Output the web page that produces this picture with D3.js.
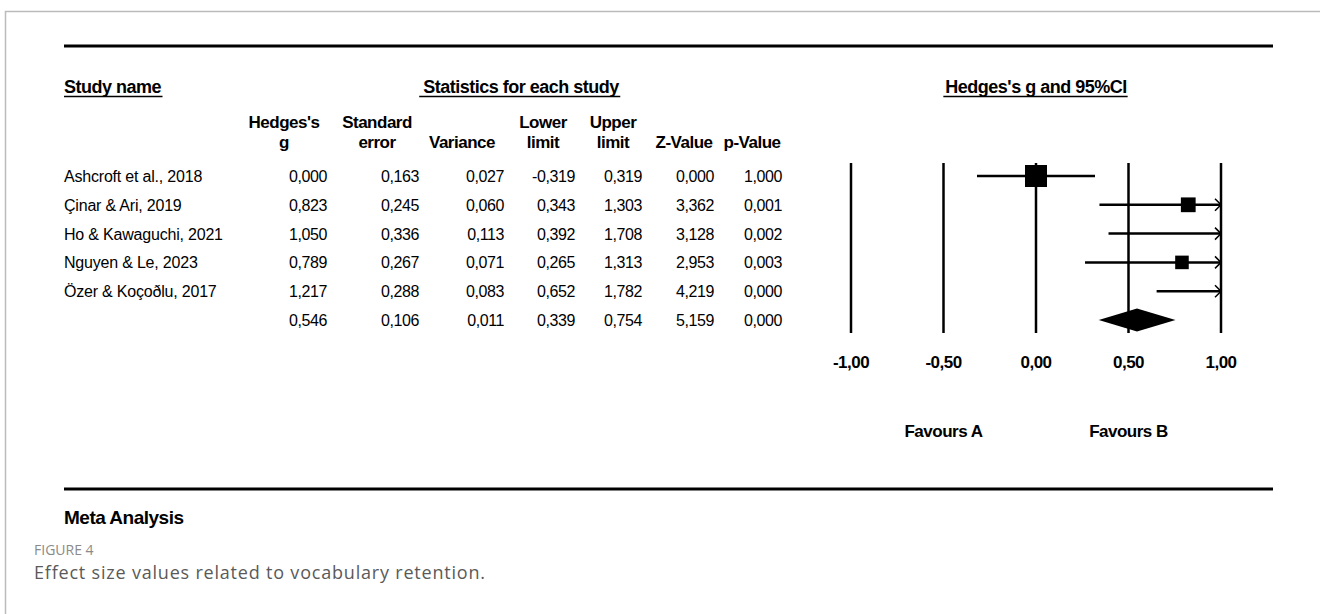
<!DOCTYPE html>
<html>
<head>
<meta charset="utf-8">
<script src="https://cdn.jsdelivr.net/npm/d3@7"></script>
<style>
  body { margin: 0; background: #fff; }
  text { font-family: "Liberation Sans", Arial, sans-serif; fill: #000; }
</style>
</head>
<body>
<script>
// study rows
const studies = [
  'Ashcroft et al., 2018',
  'Çinar & Ari, 2019',
  'Ho & Kawaguchi, 2021',
  'Nguyen & Le, 2023',
  'Özer & Koçoðlu, 2017'
];
const hedgesG = [0.000, 0.823, 1.050, 0.789, 1.217];
const stdError = [0.163, 0.245, 0.336, 0.267, 0.288];
const variance = [0.027, 0.060, 0.113, 0.071, 0.083];
const lowerLimit = [-0.319, 0.343, 0.392, 0.265, 0.652];
const upperLimit = [0.319, 1.303, 1.708, 1.313, 1.782];
const zValue = [0.000, 3.362, 3.128, 2.953, 4.219];
const pValue = [1.000, 0.001, 0.002, 0.003, 0.000];

// pooled (summary) row
const summary = { g: 0.546, se: 0.106, v: 0.011, lo: 0.339, hi: 0.754, z: 5.159, p: 0.000 };

// axis ticks of the forest plot
const tickValues = [-1, -0.5, 0, 0.5, 1];
const favourLabels = ['Favours A', 'Favours B'];

const width = 1320;
const height = 614;

// comma decimal and plain hyphen like the original output
const locale = d3.formatLocale({ decimal: ',', thousands: '.', grouping: [3], currency: ['', ''], minus: '-' });
const f3 = locale.format('.3f');
const f2 = locale.format('.2f');

const svg = d3.select('body').append('svg')
  .attr('width', width)
  .attr('height', height);

// page frame (grey)
svg.append('path')
  .attr('d', 'M5.5,614 V11.5 H1320')
  .attr('fill', 'none')
  .attr('stroke', '#bbb')
  .attr('stroke-width', 1.5);

// top and bottom rules
svg.append('line').attr('x1', 64).attr('x2', 1273).attr('y1', 46).attr('y2', 46)
  .attr('stroke', '#000').attr('stroke-width', 3);
svg.append('line').attr('x1', 64).attr('x2', 1273).attr('y1', 489).attr('y2', 489)
  .attr('stroke', '#000').attr('stroke-width', 3);

// underlined section titles
function titleWithLine(x, y, txt, anchor, pad) {
  const t = svg.append('text')
    .attr('x', x).attr('y', y)
    .attr('text-anchor', anchor)
    .style('font-size', '18px')
    .style('font-weight', 'bold')
    .style('letter-spacing', '-0.5px')
    .text(txt);
  const b = t.node().getBBox();
  svg.append('line')
    .attr('x1', b.x - pad).attr('x2', b.x + b.width + 1)
    .attr('y1', y + 3.5).attr('y2', y + 3.5)
    .attr('stroke', '#000').attr('stroke-width', 1.5);
}
titleWithLine(64, 93, 'Study name', 'start', 0);
titleWithLine(521, 93, 'Statistics for each study', 'middle', 4);

// table columns
const columns = [
  { head: ['Hedges\'s', 'g'], vals: hedgesG, sum: summary.g, cx: 284, right: 327 },
  { head: ['Standard', 'error'], vals: stdError, sum: summary.se, cx: 377, right: 419 },
  { head: ['', 'Variance'], vals: variance, sum: summary.v, cx: 462, right: 504 },
  { head: ['Lower', 'limit'], vals: lowerLimit, sum: summary.lo, cx: 543, right: 575 },
  { head: ['Upper', 'limit'], vals: upperLimit, sum: summary.hi, cx: 613, right: 642 },
  { head: ['', 'Z-Value'], vals: zValue, sum: summary.z, cx: 684, right: 714 },
  { head: ['', 'p-Value'], vals: pValue, sum: summary.p, cx: 752, right: 782 }
];

const nRows = studies.length + 1;
const y = d3.scaleLinear().domain([0, nRows - 1]).range([176, 320]);
const x = d3.scaleLinear().domain([-1, 1]).range([851, 1221]);

columns.forEach((c) => {
  c.head.forEach((h, i) => {
    if (!h) return;
    svg.append('text')
      .attr('x', c.cx).attr('y', 128 + i * 20)
      .attr('text-anchor', 'middle')
      .style('font-size', '17px')
      .style('font-weight', 'bold')
      .style('letter-spacing', '-0.5px')
      .text(h);
  });
  svg.selectAll(null)
    .data(c.vals.concat([c.sum]))
    .enter()
    .append('text')
    .attr('x', c.right)
    .attr('y', (d, i) => y(i) + 6)
    .attr('text-anchor', 'end')
    .style('font-size', '16px')
    .style('letter-spacing', '-0.4px')
    .text((d) => f3(d));
});

svg.selectAll('.study')
  .data(studies)
  .enter()
  .append('text')
  .attr('class', 'study')
  .attr('x', 64)
  .attr('y', (d, i) => y(i) + 6)
  .style('font-size', '16px')
  .style('letter-spacing', '-0.2px')
  .text((d) => d);

// forest plot
titleWithLine(x(0), 93, 'Hedges\'s g and 95%CI', 'middle', 2);

svg.selectAll('.grid')
  .data(tickValues)
  .enter()
  .append('line')
  .attr('class', 'grid')
  .attr('x1', (d) => x(d)).attr('x2', (d) => x(d))
  .attr('y1', 163).attr('y2', 333)
  .attr('stroke', '#000').attr('stroke-width', 2.5);

svg.selectAll('.tick')
  .data(tickValues)
  .enter()
  .append('text')
  .attr('class', 'tick')
  .attr('x', (d) => x(d))
  .attr('y', 368)
  .attr('text-anchor', 'middle')
  .style('font-size', '17px')
  .style('font-weight', 'bold')
  .style('letter-spacing', '-0.5px')
  .text((d) => f2(d));

svg.selectAll('.favour')
  .data(favourLabels)
  .enter()
  .append('text')
  .attr('class', 'favour')
  .attr('x', (d, i) => x(i === 0 ? -0.5 : 0.5))
  .attr('y', 437)
  .attr('text-anchor', 'middle')
  .style('font-size', '17px')
  .style('font-weight', 'bold')
  .style('letter-spacing', '-0.5px')
  .text((d) => d);

const rows = studies.map((s, i) => ({
  g: hedgesG[i], lo: lowerLimit[i], hi: upperLimit[i], v: variance[i], i: i
}));

// square area follows study weight (1 / variance)
const side = d3.scaleSqrt().domain([0, 1 / d3.min(variance)]).range([0, 22]);

const clamp = (v) => Math.max(-1, Math.min(1, v));

svg.selectAll('.ci')
  .data(rows)
  .enter()
  .append('line')
  .attr('class', 'ci')
  .attr('x1', (d) => x(clamp(d.lo)))
  .attr('x2', (d) => x(clamp(d.hi)))
  .attr('y1', (d) => y(d.i)).attr('y2', (d) => y(d.i))
  .attr('stroke', '#000').attr('stroke-width', 2.5);

svg.selectAll('.arrow')
  .data(rows.filter((d) => d.hi > 1))
  .enter()
  .append('path')
  .attr('class', 'arrow')
  .attr('d', (d) => {
    const ax = x(1), ay = y(d.i);
    return `M${ax - 6},${ay - 6} L${ax},${ay} L${ax - 6},${ay + 6}`;
  })
  .attr('fill', 'none')
  .attr('stroke', '#000').attr('stroke-width', 1.5);

svg.selectAll('.box')
  .data(rows.filter((d) => d.g >= -1 && d.g <= 1))
  .enter()
  .append('rect')
  .attr('class', 'box')
  .attr('x', (d) => x(d.g) - side(1 / d.v) / 2)
  .attr('y', (d) => y(d.i) - side(1 / d.v) / 2)
  .attr('width', (d) => side(1 / d.v))
  .attr('height', (d) => side(1 / d.v))
  .attr('fill', '#000');

// pooled diamond
const dy = y(nRows - 1);
svg.append('path')
  .attr('d', `M${x(summary.lo)},${dy} L${x(summary.g)},${dy - 11.5} L${x(summary.hi)},${dy} L${x(summary.g)},${dy + 11.5} Z`)
  .attr('fill', '#000');

// caption
svg.append('text')
  .attr('x', 64).attr('y', 524)
  .style('font-size', '19px')
  .style('font-weight', 'bold')
  .style('letter-spacing', '-0.5px')
  .text('Meta Analysis');

svg.append('text')
  .attr('x', 34).attr('y', 555)
  .style('font-family', '"Open Sans", sans-serif')
  .style('font-size', '14px')
  .style('fill', '#8a8a8a')
  .text('FIGURE 4');

svg.append('text')
  .attr('x', 34).attr('y', 579)
  .style('font-family', '"Open Sans", sans-serif')
  .style('font-size', '18px')
  .style('letter-spacing', '0.8px')
  .style('fill', '#5a5a5a')
  .text('Effect size values related to vocabulary retention.');
</script>
</body>
</html>
